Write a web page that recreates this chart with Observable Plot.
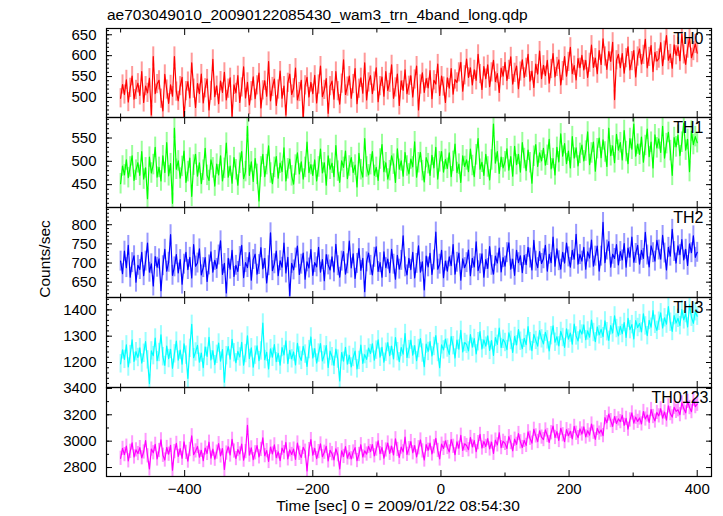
<!DOCTYPE html>
<html><head><meta charset="utf-8">
<script src="https://cdn.jsdelivr.net/npm/d3@7"></script>
<script src="https://cdn.jsdelivr.net/npm/@observablehq/plot@0.6"></script>
<style>
body{margin:0;background:#fff;}
#chart{position:relative;width:723px;height:516px;font-family:"Liberation Sans",Arial,Helvetica,sans-serif;color:#000;overflow:hidden;background:#fff}
.panel{position:absolute;left:0}
.lbl{position:absolute;font-size:15.5px;line-height:15px;white-space:nowrap}
</style></head><body><div id="chart"></div>
<script>
const title = "ae703049010_20090122085430_wam3_trn_4band_long.qdp";
const xLabel = "Time [sec] 0 = 2009/01/22 08:54:30";
const yLabel = "Counts/sec";
const bands = ["TH0", "TH1", "TH2", "TH3", "TH0123"];
const colors = ["#ff0000", "#00ff00", "#0000ff", "#00ffff", "#ff00ff"];
const errors = [23, 22, 26, 35, 54];
const tStart = -500, tStep = 3;

const th0 = [
498,531,507,542,489,523,551,496,518,534,
505,562,488,527,511,546,458,598,509,532,
541,497,468,555,519,486,530,503,598,514,
492,527,548,452,515,538,499,583,521,476,
533,509,556,487,522,544,470,516,591,502,
528,485,539,512,560,494,521,547,455,530,
511,552,488,524,573,499,536,482,515,549,
497,529,558,475,517,540,503,586,492,525,
544,481,519,563,498,527,458,535,556,507,
522,570,494,513,541,450,529,548,501,536,
509,553,487,531,575,502,518,545,462,527,
539,496,562,515,484,533,590,507,526,551,
498,532,569,485,521,547,510,583,494,536,
552,509,538,571,490,527,549,503,562,517,
535,578,498,524,556,481,540,517,566,509,
528,552,501,543,575,470,531,559,512,545,
523,564,497,541,532,580,505,551,526,488,
547,522,569,508,543,536,560,584,515,553,
592,548,571,530,566,541,603,556,519,574,
545,578,526,560,589,538,557,512,570,551,
584,541,566,597,532,559,575,521,562,590,
548,571,603,539,563,524,580,556,611,545,
577,552,589,534,568,605,549,573,590,530,
563,598,551,585,620,557,576,542,593,571,
601,566,589,548,583,625,572,594,557,612,
579,640,598,567,610,586,632,495,589,603,
571,605,558,594,621,566,587,612,549,598,
616,580,602,639,571,597,624,562,608,587,
593,631,576,612,648,589,604,570,626,601,
621,588,652,603,579,617,642,595,611,628,
606];

const th1 = [
452,490,471,503,465,488,512,459,481,497,
470,521,462,486,420,509,475,493,530,466,
487,458,512,476,540,469,495,410,571,483,
501,464,489,522,455,478,507,425,492,515,
468,497,452,481,528,470,459,503,486,447,
494,471,512,458,485,539,466,490,453,508,
482,449,496,521,463,478,575,470,499,457,
506,472,415,488,515,467,493,533,475,452,
487,510,464,496,478,529,458,484,505,469,
451,492,518,473,499,462,487,541,476,493,
470,503,458,488,526,475,497,449,512,483,
496,467,534,479,455,501,487,522,463,490,
508,476,492,445,517,482,466,549,488,471,
493,521,470,487,459,505,536,478,497,462,
480,512,494,455,527,483,501,468,519,490,
473,505,488,542,466,497,519,480,456,508,
495,470,513,486,530,462,499,521,477,504,
485,518,467,500,537,476,494,455,512,489,
503,478,526,491,467,514,549,483,498,470,
515,488,460,503,580,496,521,474,509,486,
499,527,481,510,468,532,493,515,477,540,
506,480,524,497,453,511,536,489,518,501,
528,492,513,547,484,506,471,530,499,559,
511,538,495,522,486,553,507,529,490,517,
535,501,522,563,493,518,541,479,527,550,
508,546,520,489,571,512,533,497,558,524,
540,503,566,521,495,549,526,580,511,537,
515,552,498,534,569,510,541,486,557,529,
548,519,575,507,538,562,523,470,551,531,
556,512,541,582,524,547,478,565,536,553,
540];

const th2 = [
705,672,731,688,746,663,701,719,650,694,
683,728,667,705,752,676,698,640,717,689,
711,628,693,736,679,702,774,668,690,722,
674,709,645,697,728,683,715,661,748,692,
700,737,669,688,714,652,695,729,676,707,
686,721,758,670,699,622,712,684,733,665,
694,678,717,746,662,701,688,727,655,709,
723,671,696,740,685,712,648,693,779,680,
698,731,667,706,689,752,674,715,615,699,
682,713,744,670,697,726,658,703,687,735,
668,701,690,741,676,709,654,722,695,682,
716,677,749,693,663,705,730,671,698,757,
687,724,660,699,738,681,712,625,703,726,
694,669,715,742,678,701,663,729,688,710,
675,736,697,658,720,684,707,771,690,669,
712,683,728,661,699,745,676,703,630,718,
690,725,670,708,781,684,697,733,662,705,
679,716,693,748,671,702,726,655,711,688,
701,734,667,712,690,755,680,698,724,663,
709,686,743,694,671,718,700,739,677,714,
692,727,753,684,710,668,733,701,719,675,
720,696,741,713,682,759,705,688,730,699,
711,746,679,723,701,768,692,737,706,684,
728,700,752,716,689,733,710,775,697,722,
705,741,684,729,713,760,692,718,744,679,
718,806,701,734,756,689,723,712,748,695,
730,708,751,689,739,715,768,702,725,746,
697,733,712,780,721,690,745,727,705,759,
734,710,772,726,682,741,718,788,730,700,
745,722,761,708,736,694,750,727,771,715,
728];

const th3 = [
1195,1248,1212,1267,1183,1230,1286,1204,1241,1219,
1256,1198,1235,1279,1210,1120,1244,1226,1293,1207,
1238,1305,1222,1189,1262,1215,1250,1178,1233,1281,
1209,1247,1194,1271,1228,1140,1254,1345,1218,1240,
1265,1201,1236,1180,1259,1223,1296,1210,1245,1192,
1231,1274,1205,1249,1125,1226,1260,1213,1288,1237,
1199,1242,1221,1277,1190,1234,1301,1215,1256,1182,
1228,1263,1207,1244,1350,1211,1239,1176,1252,1220,
1268,1203,1235,1190,1257,1229,1282,1196,1246,1214,
1240,1191,1273,1225,1208,1261,1232,1185,1249,1297,
1217,1253,1198,1236,1272,1206,1229,1264,1181,1243,
1222,1189,1251,1213,1130,1238,1205,1258,1194,1227,
1183,1219,1243,1176,1208,1266,1197,1230,1212,1255,
1234,1271,1209,1247,1286,1220,1258,1201,1239,1276,
1226,1262,1214,1295,1241,1203,1257,1232,1310,1219,
1249,1285,1228,1264,1207,1253,1291,1236,1184,1270,
1242,1279,1225,1261,1302,1238,1180,1267,1248,1289,
1255,1231,1298,1264,1217,1285,1251,1322,1240,1276,
1269,1244,1306,1258,1291,1233,1279,1317,1252,1286,
1262,1301,1246,1283,1227,1295,1269,1331,1257,1288,
1276,1249,1313,1284,1238,1299,1267,1325,1281,1253,
1292,1268,1336,1279,1245,1307,1284,1262,1321,1290,
1271,1315,1286,1244,1302,1339,1277,1298,1263,1318,
1295,1257,1328,1289,1312,1270,1346,1301,1282,1324,
1308,1343,1287,1320,1296,1361,1314,1279,1335,1305,
1326,1298,1358,1317,1284,1340,1312,1377,1329,1301,
1337,1310,1352,1295,1368,1325,1344,1290,1359,1333,
1348,1316,1385,1339,1302,1360,1334,1397,1345,1322,
1357,1389,1331,1370,1346,1412,1353,1318,1378,1350,
1368,1340,1401,1362,1386,1335,1419,1372,1349,1393,
1376];

const th0123 = [
2870,2945,2898,2962,2851,2923,2987,2880,2934,2906,
2951,2874,2918,3005,2889,2790,2940,2912,2976,2865,
2929,3010,2893,2857,2952,2901,2968,2780,2921,2983,
2884,2943,2870,2995,2915,2849,2937,3041,2897,2926,
2960,2878,2931,2853,2948,2907,2992,2872,2939,2863,
2917,2981,2888,2944,2785,2910,2958,2895,3014,2925,
2868,2936,2903,2977,2856,2921,3120,2894,2949,2860,
2912,2966,2881,2937,3025,2890,2928,2846,2955,2903,
2972,2875,2919,2852,2947,2913,2990,2866,2934,2899,
2940,2862,2986,2908,2877,2953,2924,2775,2936,3012,
2894,2945,2868,2921,2979,2882,2916,2961,2850,2930,
2905,2858,2942,2897,2790,2927,2884,2958,2872,2913,
2866,2918,2951,2853,2899,2973,2880,2926,2902,2960,
2921,2974,2889,2940,3003,2905,2952,2871,2933,2986,
2908,2962,2895,3018,2937,2876,2955,2919,3030,2900,
2943,2997,2912,2966,2881,2950,3009,2926,2857,2974,
2931,2985,2903,2958,3021,2930,2865,2977,2945,3002,
2952,2918,3012,2961,2897,2994,2946,3045,2930,2980,
2967,2935,3028,2956,3004,2920,2989,3051,2948,2997,
2960,3019,2941,2993,2908,3008,2972,3064,2951,2999,
2983,2945,3034,2990,2927,3015,2976,3058,2995,2952,
3006,2968,3071,3022,2985,3090,3040,2997,3079,3031,
3012,3085,3043,2990,3064,3115,3028,3072,3005,3098,
3049,2996,3087,3041,3075,3018,3112,3060,3027,3093,
3054,3108,3032,3079,3046,3130,3068,3013,3097,3061,
3085,3042,3178,3140,3205,3156,3112,3187,3134,3169,
3148,3196,3120,3173,3091,3161,3214,3137,3182,3150,
3176,3131,3225,3168,3199,3142,3240,3187,3153,3218,
3192,3246,3175,3221,3160,3268,3209,3183,3257,3226,
3238,3201,3290,3247,3215,3302,3255,3224,3318,3262,
3280];

const series = [th0, th1, th2, th3, th0123];
const xDomain = [-522, 422.3];
const xMajor = [-400, -200, 0, 200, 400];
const xMinor = [-500, -300, -100, 100, 300];
const yDomains = [[452, 665], [401, 594], [610, 845], [1105, 1447], [2732, 3407]];
const yMajor = [[500, 550, 600, 650], [450, 500, 550], [650, 700, 750, 800], [1200, 1300, 1400], [2800, 3000, 3200, 3400]];
const yMinorStep = [10, 10, 10, 20, 100];

const chart = document.getElementById("chart");
const tops = [28, 117, 207, 297, 387];
const bottom = 476;
const font = '"Liberation Sans", Arial, Helvetica, sans-serif';

function addLabel(text, css) {
  const d = document.createElement("div");
  d.className = "lbl";
  d.textContent = text;
  Object.assign(d.style, css);
  chart.appendChild(d);
}

series.forEach((vals, i) => {
  const data = vals.map((v, j) => ({t: tStart + j * tStep, v}));
  const last = i === series.length - 1;
  const h = (last ? bottom : tops[i + 1]) - tops[i];
  const err = errors[i];
  const [y0, y1] = yDomains[i];
  const minor = d3.range(Math.ceil(y0 / yMinorStep[i]) * yMinorStep[i], y1, yMinorStep[i]);
  const marks = [
    Plot.ruleX(data, {x: "t", y1: d => d.v - err, y2: d => d.v + err, stroke: colors[i], strokeOpacity: 0.4, strokeWidth: 2, clip: true}),
    Plot.line(data, {x: "t", y: "v", stroke: colors[i], strokeWidth: 1.2, clip: true}),
    Plot.frame({stroke: "#000", strokeWidth: 1.2}),
    Plot.axisY(yMajor[i], {anchor: "left", tickSize: 0, tickPadding: 10, tickFormat: "d", fontSize: 15, label: null}),
    Plot.axisY(yMajor[i], {anchor: "left", tickSize: -6, fill: "none", label: null}),
    Plot.axisY(minor, {anchor: "left", tickSize: -3, fill: "none", label: null}),
    Plot.axisY(yMajor[i], {anchor: "right", tickSize: -6, fill: "none", label: null}),
    Plot.axisY(minor, {anchor: "right", tickSize: -3, fill: "none", label: null}),
    Plot.axisX(xMajor, {anchor: "top", tickSize: -6, fill: "none", label: null}),
    Plot.axisX(xMinor, {anchor: "top", tickSize: -3.5, fill: "none", label: null}),
    Plot.axisX(xMajor, {anchor: "bottom", tickSize: -6, fill: "none", label: null}),
    Plot.axisX(xMinor, {anchor: "bottom", tickSize: -3.5, fill: "none", label: null}),
    Plot.text([bands[i]], {frameAnchor: "top-right", textAnchor: "end", lineAnchor: "top", dx: last ? -3 : -8, dy: 4, fontSize: 16, fill: "#000"})
  ];
  if (last) {
    marks.push(Plot.axisX(xMajor, {anchor: "bottom", tickSize: 0, tickPadding: 7, tickFormat: "d", fontSize: 15, label: null}));
  }
  const svg = Plot.plot({
    width: 723,
    height: h + (last ? 40 : 0),
    marginLeft: 106,
    marginRight: 12,
    marginTop: 0,
    marginBottom: last ? 40 : 0,
    style: {overflow: "visible", background: "transparent", fontFamily: font, fontSize: "15px", color: "#000"},
    x: {domain: xDomain},
    y: {domain: yDomains[i]},
    marks
  });
  svg.classList.add("panel");
  svg.style.top = tops[i] + "px";
  chart.appendChild(svg);
});

addLabel(title, {left: "107px", top: "7px"});
addLabel(xLabel, {left: "398px", top: "498px", transform: "translateX(-50%)"});
addLabel(yLabel, {left: "44px", top: "259px", transform: "translate(-50%,-50%) rotate(-90deg)"});
</script></body></html>
